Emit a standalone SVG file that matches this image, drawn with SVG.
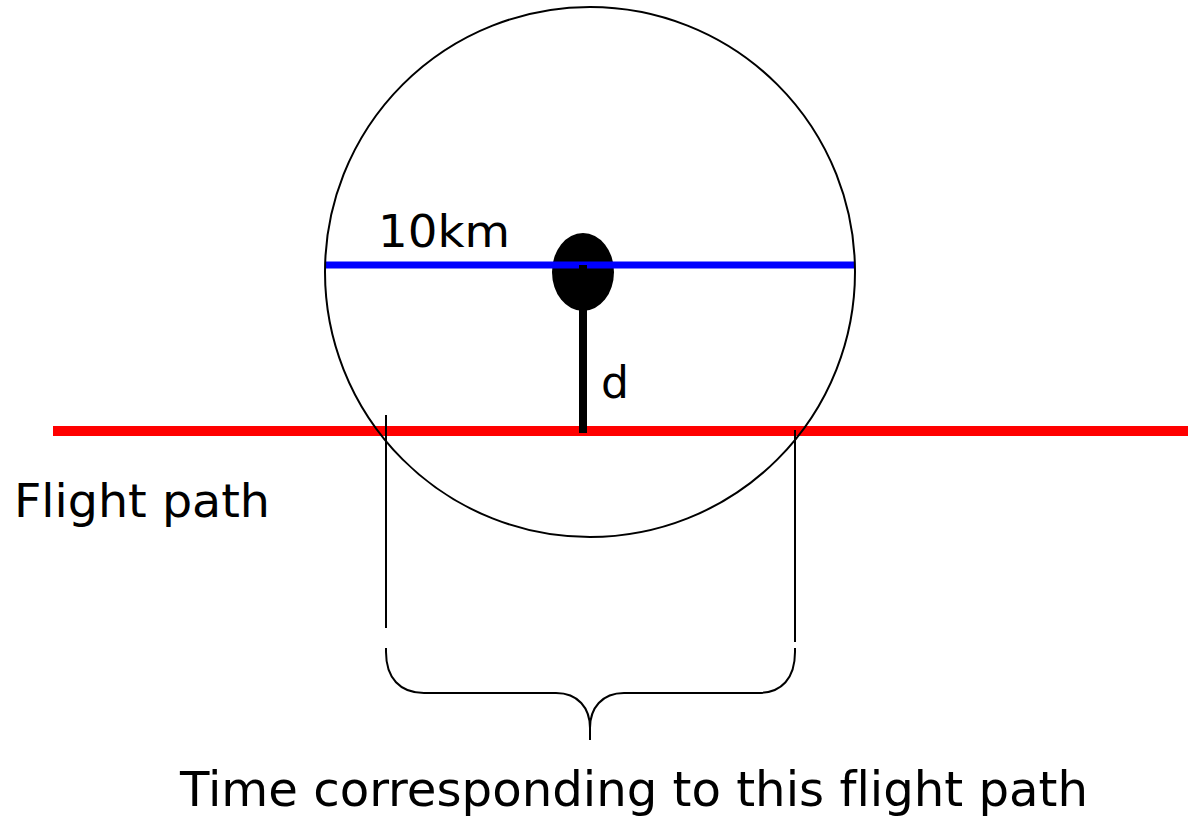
<svg xmlns="http://www.w3.org/2000/svg" width="1188" height="819" viewBox="0 0 1188 819">
<style>
text{font-family:"DejaVu Sans","Liberation Sans",sans-serif;fill:#000;font-variant-ligatures:none}
.thin{fill:none;stroke:#000;stroke-width:2}
</style>
<rect width="1188" height="819" fill="#fff"/>
<g id="station"><ellipse cx="583" cy="272" rx="31" ry="39" fill="#000"/></g>
<g id="connectors">
<line x1="53" y1="431" x2="1188" y2="431" stroke="#f00" stroke-width="10"/>
<line x1="326" y1="265" x2="855" y2="265" stroke="#00f" stroke-width="7"/>
<line x1="583" y1="265" x2="583" y2="433" stroke="#000" stroke-width="8"/>
<line x1="386" y1="415" x2="386" y2="628" class="thin"/>
<line x1="795" y1="430" x2="795" y2="642" class="thin"/>
<path d="M386,648 L386,652 C386,678 400,693 424,693 L556,693 C578,693 590,708 590,728 L590,740 M590,728 C590,708 602,693 624,693 L758,693 C782,693 795,678 795,652 L795,648" class="thin"/>
</g>
<g id="range-circle"><circle cx="590" cy="272" r="265" class="thin"/></g>
<g id="labels">
<text x="378" y="247" font-size="44" textLength="132" lengthAdjust="spacingAndGlyphs">10km</text>
<text x="601" y="398" font-size="44">d</text>
<text x="14" y="517" font-size="46" textLength="256" lengthAdjust="spacingAndGlyphs">Flight path</text>
<text x="180" y="806" font-size="48" textLength="908" lengthAdjust="spacingAndGlyphs">Time corresponding to this flight path</text>
</g>
</svg>
